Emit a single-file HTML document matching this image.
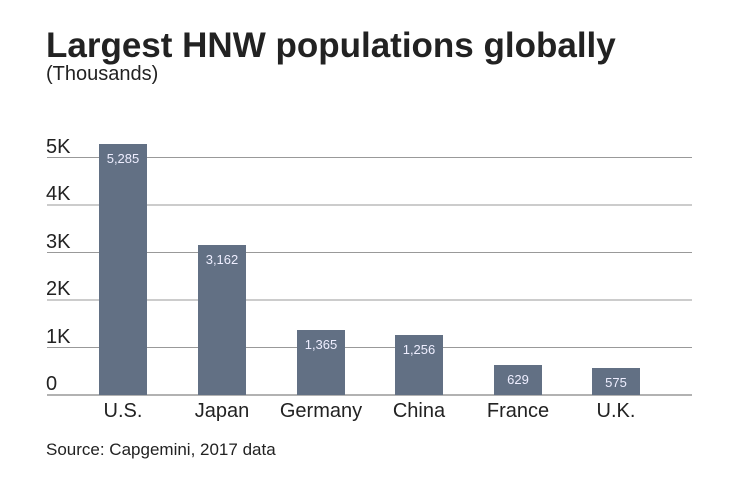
<!DOCTYPE html>
<html><head><meta charset="utf-8"><style>body{margin:0;background:#fff}</style></head><body>
<svg width="740" height="482" xmlns="http://www.w3.org/2000/svg" font-family="Liberation Sans, DejaVu Sans, sans-serif">
<rect width="740" height="482" fill="#fff"/>
<text x="46" y="57" font-size="35" font-weight="bold" fill="#222">Largest HNW populations globally</text>
<text x="46" y="80" font-size="20" fill="#222">(Thousands)</text>
<g stroke="#999" stroke-width="1">
<line x1="47" x2="692" y1="157.5" y2="157.5"/>
<line x1="47" x2="692" y1="205" y2="205"/>
<line x1="47" x2="692" y1="252.5" y2="252.5"/>
<line x1="47" x2="692" y1="300" y2="300"/>
<line x1="47" x2="692" y1="347.5" y2="347.5"/>
<line x1="47" x2="692" y1="395" y2="395" stroke="#666"/>
</g>
<g font-size="20" fill="#222">
<text x="46" y="153">5K</text><text x="46" y="200">4K</text><text x="46" y="248">3K</text>
<text x="46" y="295">2K</text><text x="46" y="343">1K</text><text x="46" y="390">0</text>
</g>
<g fill="#627084">
<rect x="99" y="144" width="48" height="251"/>
<rect x="198" y="245" width="48" height="150"/>
<rect x="297" y="330" width="48" height="65"/>
<rect x="395" y="335" width="48" height="60"/>
<rect x="494" y="365" width="48" height="30"/>
<rect x="592" y="368" width="48" height="27"/>
</g>
<g font-size="13" fill="#eef" text-anchor="middle">
<text x="123" y="163">5,285</text><text x="222" y="264">3,162</text><text x="321" y="349">1,365</text>
<text x="419" y="354">1,256</text><text x="518" y="384">629</text><text x="616" y="387">575</text>
</g>
<g font-size="20" fill="#222" text-anchor="middle">
<text x="123" y="417">U.S.</text><text x="222" y="417">Japan</text><text x="321" y="417">Germany</text>
<text x="419" y="417">China</text><text x="518" y="417">France</text><text x="616" y="417">U.K.</text>
</g>
<text x="46" y="455" font-size="17" fill="#222">Source: Capgemini, 2017 data</text>
</svg>
</body></html>
